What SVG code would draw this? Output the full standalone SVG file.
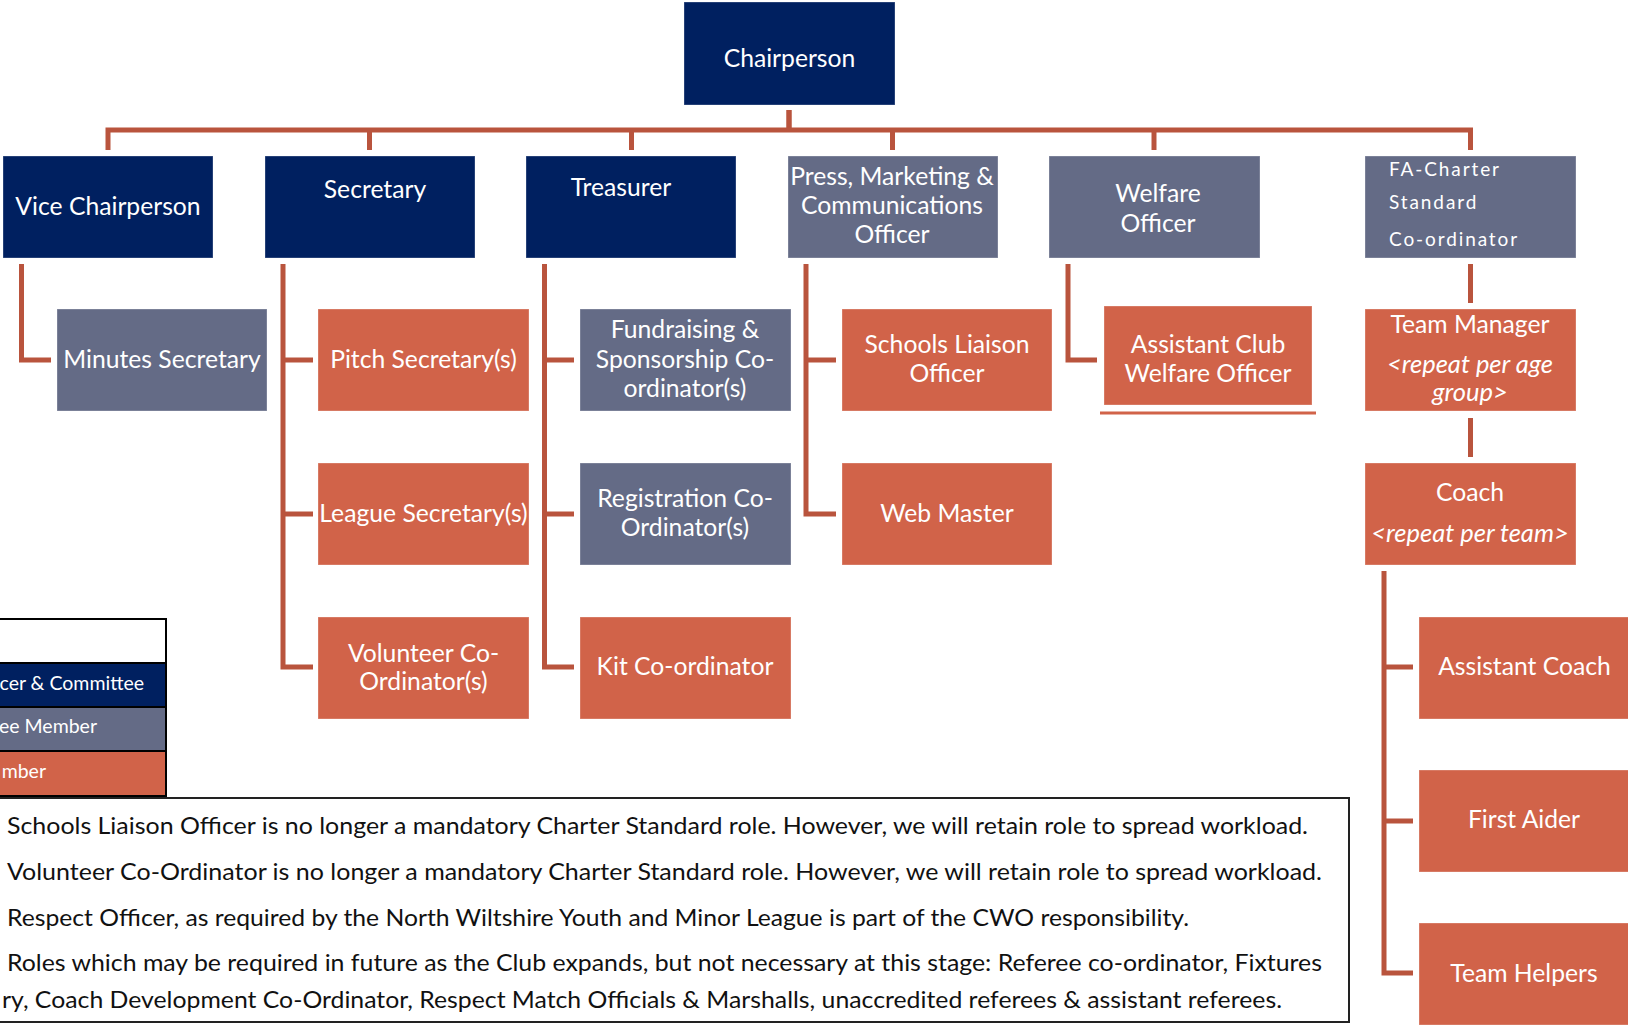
<svg xmlns="http://www.w3.org/2000/svg" width="1628" height="1027" viewBox="0 0 1628 1027">
<style>
.node text{font-family:Lato,"Liberation Sans",sans-serif;fill:#ffffff;font-size:24.7px;text-anchor:middle}
.node text.it{font-style:italic;font-size:25.5px}
.node text.fa{font-size:19px;text-anchor:start;letter-spacing:1.9px}
.box{stroke:#ffffff;stroke-opacity:0.3;stroke-width:1}
.navy{fill:#002060}
.slate{fill:#646B86}
.orange{fill:#D16349}
#connectors path{fill:none;stroke:#B9543D;stroke-width:5}
.legend rect{stroke:#000000;stroke-width:2}
.legend text{font-family:Lato,"Liberation Sans",sans-serif;font-size:19.5px;fill:#ffffff;text-anchor:end}
.notes text{font-family:Lato,"Liberation Sans",sans-serif;font-size:23.5px;fill:#111111}
</style>
<rect x="0" y="0" width="1628" height="1027" fill="#ffffff"/>

<g id="connectors">
  <path d="M789,110 V130" style="stroke-width:5.5"/>
  <path d="M108,150 V130 H1470.5 V150"/>
  <path d="M369.5,130 V150"/>
  <path d="M631.5,130 V150"/>
  <path d="M892.5,130 V150"/>
  <path d="M1154,130 V150"/>
  <path d="M21.5,264 V360 H51"/>
  <path d="M283,264 V667 H313"/>
  <path d="M283,360 H313"/>
  <path d="M283,514 H313"/>
  <path d="M544.5,264 V667 H574"/>
  <path d="M544.5,360 H574"/>
  <path d="M544.5,514 H574"/>
  <path d="M806,264 V514 H836"/>
  <path d="M806,360 H836"/>
  <path d="M1068,264 V360 H1097"/>
  <path d="M1470.5,264 V303"/>
  <path d="M1470.5,418 V457"/>
  <path d="M1384,571 V973 H1413"/>
  <path d="M1384,667 H1413"/>
  <path d="M1384,821 H1413"/>
</g>

<g id="chairperson" class="node"><rect class="box navy" x="684" y="2" width="211" height="103"/><text x="789.5" y="67">Chairperson</text></g>
<g id="vice-chairperson" class="node"><rect class="box navy" x="3" y="156" width="210" height="102"/><text x="108" y="215">Vice Chairperson</text></g>
<g id="secretary" class="node"><rect class="box navy" x="265" y="156" width="210" height="102"/><text x="375" y="198">Secretary</text></g>
<g id="treasurer" class="node"><rect class="box navy" x="526" y="156" width="210" height="102"/><text x="621" y="196">Treasurer</text></g>
<g id="press" class="node"><rect class="box slate" x="788" y="156" width="210" height="102"/><text x="892" y="185">Press, Marketing &amp;</text><text x="892" y="214">Communications</text><text x="892" y="243">Officer</text></g>
<g id="welfare" class="node"><rect class="box slate" x="1049" y="156" width="211" height="102"/><text x="1158" y="202">Welfare</text><text x="1158" y="232">Officer</text></g>
<g id="fa-charter" class="node"><rect class="box slate" x="1365" y="156" width="211" height="102"/><text class="fa" x="1389" y="176">FA-Charter</text><text class="fa" x="1389" y="209">Standard</text><text class="fa" x="1389" y="246">Co-ordinator</text></g>

<g id="minutes-secretary" class="node"><rect class="box slate" x="57" y="309" width="210" height="102"/><text x="162" y="368">Minutes Secretary</text></g>
<g id="pitch-secretary" class="node"><rect class="box orange" x="318" y="309" width="211" height="102"/><text x="423.5" y="368">Pitch Secretary(s)</text></g>
<g id="fundraising" class="node"><rect class="box slate" x="580" y="309" width="211" height="102"/><text x="685" y="338">Fundraising &amp;</text><text x="685" y="368">Sponsorship Co-</text><text x="685" y="397">ordinator(s)</text></g>
<g id="schools-liaison" class="node"><rect class="box orange" x="842" y="309" width="210" height="102"/><text x="947" y="353">Schools Liaison</text><text x="947" y="382">Officer</text></g>
<g id="assistant-welfare" class="node"><rect class="box orange" x="1104" y="306" width="208" height="99"/><line x1="1100" y1="413" x2="1316" y2="413" stroke="#D16349" stroke-width="3"/><text x="1208" y="353">Assistant Club</text><text x="1208" y="382">Welfare Officer</text></g>
<g id="team-manager" class="node"><rect class="box orange" x="1365" y="309" width="211" height="102"/><text x="1470" y="333">Team Manager</text><text class="it" x="1470" y="373">&lt;repeat per age</text><text class="it" x="1470" y="401">group&gt;</text></g>

<g id="league-secretary" class="node"><rect class="box orange" x="318" y="463" width="211" height="102"/><text x="423.5" y="522">League Secretary(s)</text></g>
<g id="registration" class="node"><rect class="box slate" x="580" y="463" width="211" height="102"/><text x="685" y="507">Registration Co-</text><text x="685" y="536">Ordinator(s)</text></g>
<g id="web-master" class="node"><rect class="box orange" x="842" y="463" width="210" height="102"/><text x="947" y="522">Web Master</text></g>
<g id="coach" class="node"><rect class="box orange" x="1365" y="463" width="211" height="102"/><text x="1470" y="501">Coach</text><text class="it" x="1470" y="542">&lt;repeat per team&gt;</text></g>

<g id="volunteer" class="node"><rect class="box orange" x="318" y="617" width="211" height="102"/><text x="423.5" y="662">Volunteer Co-</text><text x="423.5" y="690">Ordinator(s)</text></g>
<g id="kit" class="node"><rect class="box orange" x="580" y="617" width="211" height="102"/><text x="685" y="675">Kit Co-ordinator</text></g>
<g id="assistant-coach" class="node"><rect class="box orange" x="1419" y="617" width="211" height="102"/><text x="1524.5" y="675">Assistant Coach</text></g>
<g id="first-aider" class="node"><rect class="box orange" x="1419" y="770" width="211" height="102"/><text x="1524" y="828">First Aider</text></g>
<g id="team-helpers" class="node"><rect class="box orange" x="1419" y="923" width="211" height="102"/><text x="1524" y="982">Team Helpers</text></g>

<g id="legend" class="legend">
  <rect x="-5" y="619" width="171" height="44" fill="#ffffff"/>
  <rect x="-5" y="663" width="171" height="44" fill="#002060"/>
  <rect x="-5" y="707" width="171" height="44" fill="#646B86"/>
  <rect x="-5" y="751" width="171" height="45" fill="#D16349"/>
  <text x="144" y="690">cer &amp; Committee</text>
  <text x="97" y="733">ee Member</text>
  <text x="46" y="778">mber</text>
</g>

<g id="notes" class="notes">
  <rect x="-5" y="798" width="1354" height="224" fill="none" stroke="#222222" stroke-width="2"/>
  <text x="7" y="834" textLength="1301" lengthAdjust="spacingAndGlyphs">Schools Liaison Officer is no longer a mandatory Charter Standard role. However, we will retain role to spread workload.</text>
  <text x="7" y="880" textLength="1315" lengthAdjust="spacingAndGlyphs">Volunteer Co-Ordinator is no longer a mandatory Charter Standard role. However, we will retain role to spread workload.</text>
  <text x="7" y="926" textLength="1182" lengthAdjust="spacingAndGlyphs">Respect Officer, as required by the North Wiltshire Youth and Minor League is part of the CWO responsibility.</text>
  <text x="7" y="971" textLength="1315" lengthAdjust="spacingAndGlyphs">Roles which may be required in future as the Club expands, but not necessary at this stage: Referee co-ordinator, Fixtures</text>
  <text x="2" y="1008" textLength="1280" lengthAdjust="spacingAndGlyphs">ry, Coach Development Co-Ordinator, Respect Match Officials &amp; Marshalls, unaccredited referees &amp; assistant referees.</text>
</g>
</svg>
